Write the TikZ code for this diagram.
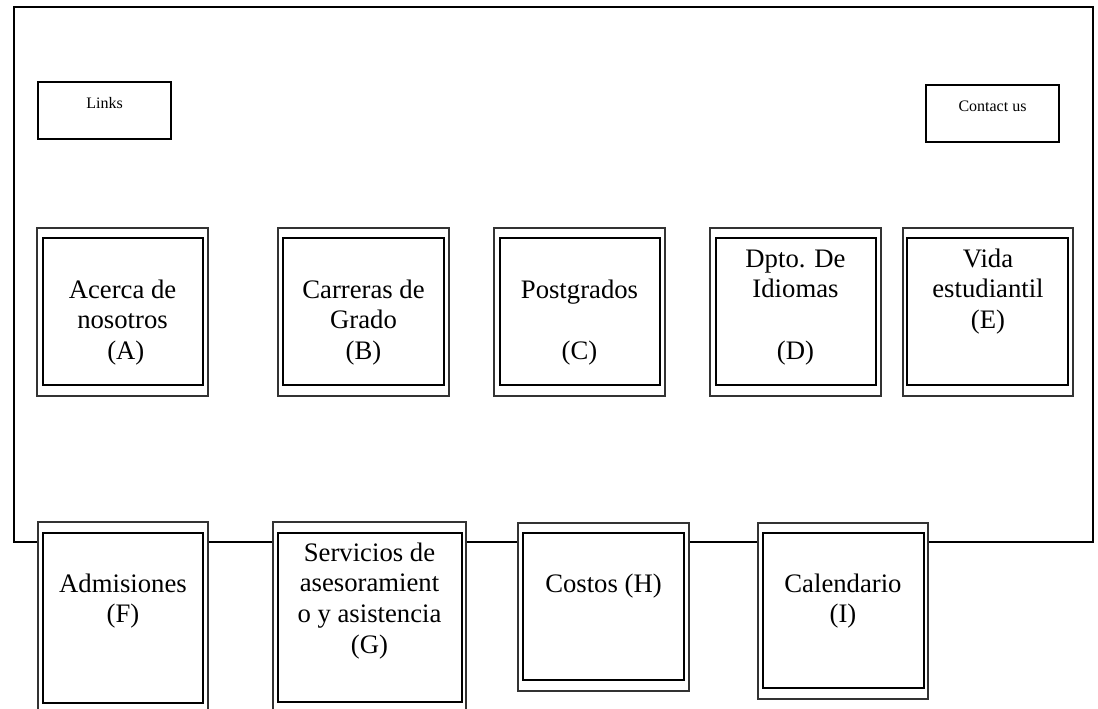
\documentclass[tikz,border=0pt]{standalone}
\usepackage{fontspec}
\setmainfont{Liberation Serif}
\begin{document}
\begin{tikzpicture}[x=1pt,y=-1pt,
  frame/.style={draw=black, line width=1.8pt},
  outerbox/.style={draw=black!80, line width=1.8pt, fill=white},
  innerbox/.style={draw=black, line width=2.6pt},
  linkbox/.style={draw=black, line width=1.8pt, fill=white},
  lbl/.style={align=center, inner sep=0pt, anchor=north, font=\fontsize{26.7}{30.8}\selectfont},
  small/.style={inner sep=0pt, anchor=base, font=\fontsize{16}{18.4}\selectfont}]
\useasboundingbox (0,0) rectangle (1098,709);
\clip (0,0) rectangle (1098,709);
\fill[white] (0,0) rectangle (1098,709);
% page frame
\draw[frame] (14,7) rectangle (1093,542);
% header boxes
\draw[linkbox] (38,82) rectangle (171,139);
\node[small] (links) at (104.5,108.3) {Links};
\draw[linkbox] (926,85) rectangle (1059,142);
\node[small] (contact) at (992.5,111.7) {Contact us};
% top row
\draw[outerbox] (37,228) rectangle (208,396);
\draw[innerbox] (43,238) rectangle (203,385);
\node[lbl] (tA) at (122.5,276.4) {\strut Acerca de\\nosotros\\~(A)};
\draw[outerbox] (278,228) rectangle (449,396);
\draw[innerbox] (283,238) rectangle (444,385);
\node[lbl] (tB) at (363.5,276.4) {\strut Carreras de\\Grado\\(B)};
\draw[outerbox] (494,228) rectangle (665,396);
\draw[innerbox] (500,238) rectangle (660,385);
\node[lbl] (tC) at (579.5,276.4) {\strut Postgrados\\\mbox{}\\(C)};
\draw[outerbox] (710,228) rectangle (881,396);
\draw[innerbox] (716,238) rectangle (876,385);
\node[lbl] (tD) at (795.5,245.4) {\strut Dpto. De\\Idiomas\\\mbox{}\\(D)};
\draw[outerbox] (903,228) rectangle (1073,396);
\draw[innerbox] (907,238) rectangle (1068,385);
\node[lbl] (tE) at (988,245.4) {\strut Vida\\estudiantil\\(E)};
% bottom row
\draw[outerbox] (38,522) rectangle (208,720);
\draw[innerbox] (43,533) rectangle (203,703);
\node[lbl] (tF) at (123,570.4) {\strut Admisiones\\(F)};
\draw[outerbox] (273,522) rectangle (466,720);
\draw[innerbox] (278,533) rectangle (462,702);
\node[lbl] (tG) at (369.5,539.4) {\strut Servicios de\\asesoramient\\o y asistencia\\(G)};
\draw[outerbox] (518,523) rectangle (689,691);
\draw[innerbox] (523,533) rectangle (684,680);
\node[lbl] (tH) at (603.5,570.4) {\strut Costos (H)};
\draw[outerbox] (758,523) rectangle (928,699);
\draw[innerbox] (763,533) rectangle (924,688);
\node[lbl] (tI) at (843,570.4) {\strut Calendario\\(I)};
\end{tikzpicture}
\end{document}
